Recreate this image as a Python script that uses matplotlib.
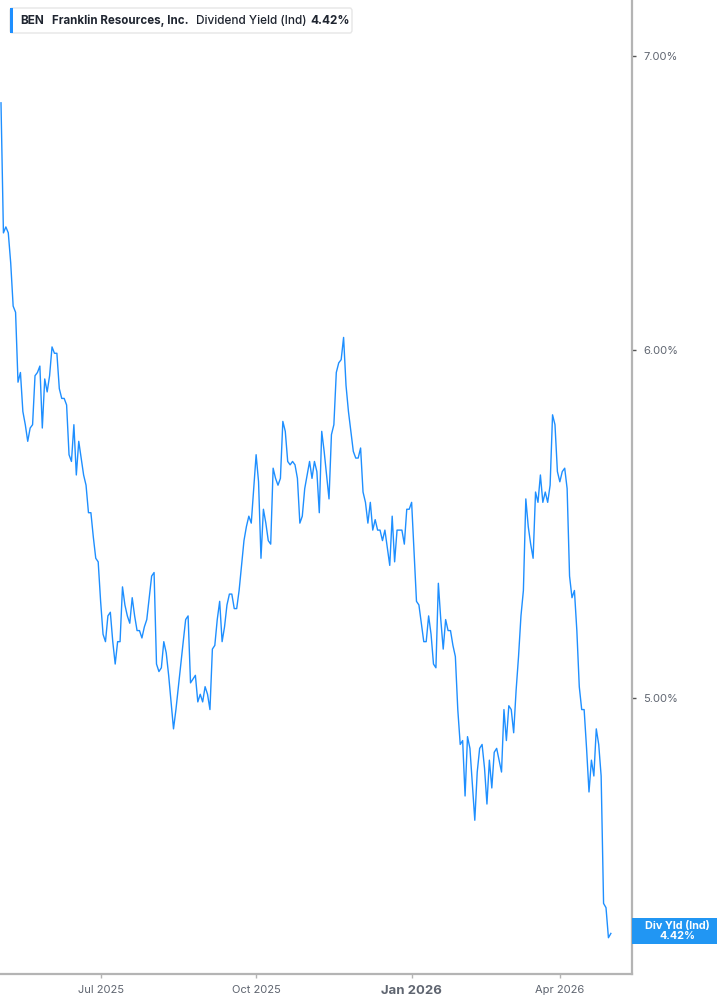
import pandas as pd
import matplotlib.pyplot as plt
from matplotlib.patches import Rectangle, FancyBboxPatch
from matplotlib.ticker import NullLocator

plt.rcParams['font.family'] = ['Inter', 'DejaVu Sans']

ticker = 'BEN'
company = 'Franklin Resources, Inc.'
metric = 'Dividend Yield (Ind)'
badge_label = 'Div Yld (Ind)'

# NYSE trading days, May 2025 - May 2026
holidays = ['2025-05-26', '2025-06-19', '2025-07-04', '2025-09-01', '2025-11-27',
            '2025-12-25', '2026-01-01', '2026-01-19', '2026-02-16', '2026-04-03']
dates = pd.bdate_range('2025-05-01', '2026-05-01', freq='C', holidays=holidays)

# dividend yield in %, one value per trading day
div_yield = [
    6.83, 6.38, 6.40, 6.38, 6.28, 6.14, 6.12, 5.90, 5.93, 5.81,
    5.77, 5.72, 5.76, 5.77, 5.92, 5.93, 5.95, 5.76, 5.91, 5.87,
    5.92, 6.01, 5.99, 5.99, 5.88, 5.85, 5.85, 5.83, 5.68, 5.66,
    5.77, 5.62, 5.72, 5.67, 5.62, 5.59, 5.51, 5.51, 5.44, 5.38,
    5.37, 5.26, 5.17, 5.15, 5.22, 5.23, 5.15, 5.09, 5.15, 5.15,
    5.30, 5.25, 5.22, 5.20, 5.27, 5.22, 5.18, 5.18, 5.16, 5.19,
    5.21, 5.27, 5.33, 5.34, 5.09, 5.07, 5.08, 5.15, 5.12, 5.06,
    4.99, 4.92, 4.97, 5.03, 5.09, 5.15, 5.21, 5.22, 5.04, 5.05,
    5.06, 4.99, 5.01, 4.99, 5.03, 5.01, 4.97, 5.13, 5.14, 5.21,
    5.26, 5.15, 5.19, 5.25, 5.28, 5.28, 5.24, 5.24, 5.29, 5.36,
    5.43, 5.47, 5.50, 5.48, 5.58, 5.68, 5.60, 5.38, 5.52, 5.48,
    5.43, 5.42, 5.64, 5.61, 5.59, 5.61, 5.78, 5.75, 5.66, 5.65,
    5.66, 5.65, 5.61, 5.48, 5.50, 5.58, 5.62, 5.66, 5.61, 5.66,
    5.63, 5.51, 5.75, 5.69, 5.62, 5.55, 5.74, 5.77, 5.93, 5.96,
    5.97, 6.04, 5.89, 5.81, 5.75, 5.69, 5.67, 5.67, 5.70, 5.57,
    5.54, 5.48, 5.54, 5.46, 5.49, 5.46, 5.46, 5.43, 5.46, 5.41,
    5.36, 5.50, 5.37, 5.46, 5.46, 5.46, 5.42, 5.52, 5.52, 5.54,
    5.40, 5.26, 5.25, 5.20, 5.15, 5.15, 5.22, 5.17, 5.09, 5.08,
    5.31, 5.21, 5.13, 5.21, 5.18, 5.18, 5.14, 5.11, 4.97, 4.88,
    4.89, 4.75, 4.90, 4.87, 4.78, 4.69, 4.81, 4.87, 4.88, 4.82,
    4.73, 4.84, 4.77, 4.86, 4.87, 4.84, 4.81, 4.97, 4.89, 4.98,
    4.97, 4.91, 5.02, 5.11, 5.22, 5.29, 5.55, 5.47, 5.42, 5.38,
    5.57, 5.54, 5.62, 5.54, 5.57, 5.54, 5.59, 5.80, 5.77, 5.63,
    5.60, 5.63, 5.64, 5.58, 5.33, 5.27, 5.29, 5.18, 5.03, 4.97,
    4.97, 4.87, 4.76, 4.84, 4.80, 4.92, 4.88, 4.80, 4.49, 4.48,
    4.41, 4.42,
]

y_ticks = [5.0, 6.0, 7.0]
x_tick_months = ['2025-07-01', '2025-10-01', '2026-01-01', '2026-04-01']
x_tick_labels = ['Jul 2025', 'Oct 2025', 'Jan 2026', 'Apr 2026']

W, H = 717, 1005
line_color = '#1e8fff'
grey_txt = '#5f6570'
spine_col = '#b4b4b4'

fig = plt.figure(figsize=(W / 100, H / 100), dpi=100)
ax = fig.add_axes([0, 31 / H, 632 / W, 974 / H])

idx = list(range(len(dates)))
ax.plot(idx, div_yield, color=line_color, lw=1.0, solid_joinstyle='round')

ax.set_yscale('log')
ax.set_ylim(4.327, 7.208)
ax.set_xlim(-0.41, 259.7)
ax.yaxis.set_minor_locator(NullLocator())
ax.set_yticks(y_ticks)
ax.set_yticklabels([f'{v:.2f}%' for v in y_ticks])
ax.yaxis.tick_right()

tick_pos = [dates.searchsorted(pd.Timestamp(m)) for m in x_tick_months]
ax.set_xticks(tick_pos)
ax.set_xticklabels(x_tick_labels)

ax.tick_params(axis='y', length=3, width=1, color='#555555', pad=5,
               labelsize=8, labelcolor=grey_txt)
ax.tick_params(axis='x', length=3, width=1, color=spine_col, pad=5,
               labelsize=8, labelcolor=grey_txt)
lbl = ax.get_xticklabels()[2]
lbl.set_fontweight('bold')
lbl.set_fontsize(9.5)

for s in ['left', 'top']:
    ax.spines[s].set_visible(False)
for s in ['right', 'bottom']:
    ax.spines[s].set_color(spine_col)
    ax.spines[s].set_linewidth(1.6)

# legend box at the top left
fig.patches.append(FancyBboxPatch((10 / W, 1 - 33 / H), 342 / W, 25 / H,
                                  boxstyle='round,pad=0,rounding_size=0.003',
                                  transform=fig.transFigure, facecolor='white',
                                  edgecolor='#e6e6e6', lw=1))
fig.patches.append(Rectangle((10 / W, 1 - 33 / H), 3 / W, 25 / H,
                             transform=fig.transFigure, facecolor=line_color,
                             edgecolor='none'))
ty = 1 - 20.5 / H
fig.text(20 / W, ty, ticker, fontsize=8.5, fontweight='bold', color='#1f2530', va='center')
fig.text(52 / W, ty, company, fontsize=8.3, fontweight='bold', color='#1f2530', va='center')
fig.text(196 / W, ty, metric, fontsize=8.5, fontweight='medium', color='#1f2530', va='center')
fig.text(310 / W, ty, f'{div_yield[-1]:.2f}%', fontsize=8.5, fontweight='bold',
         color='#1f2530', va='center')

# last value badge on the right axis
fig.canvas.draw()
_, py = ax.transData.transform((idx[-1], div_yield[-1]))
py = py + 2
fig.patches.append(Rectangle((632 / W, (py - 13) / H), 85 / W, 26 / H,
                             transform=fig.transFigure, facecolor='#2196f3',
                             edgecolor='none'))
fig.text(677 / W, py / H, f'{badge_label}\n{div_yield[-1]:.2f}%', fontsize=7.8,
         fontweight='bold', color='white', ha='center', va='center', linespacing=1.0)

fig.savefig('out.png', dpi=100)
